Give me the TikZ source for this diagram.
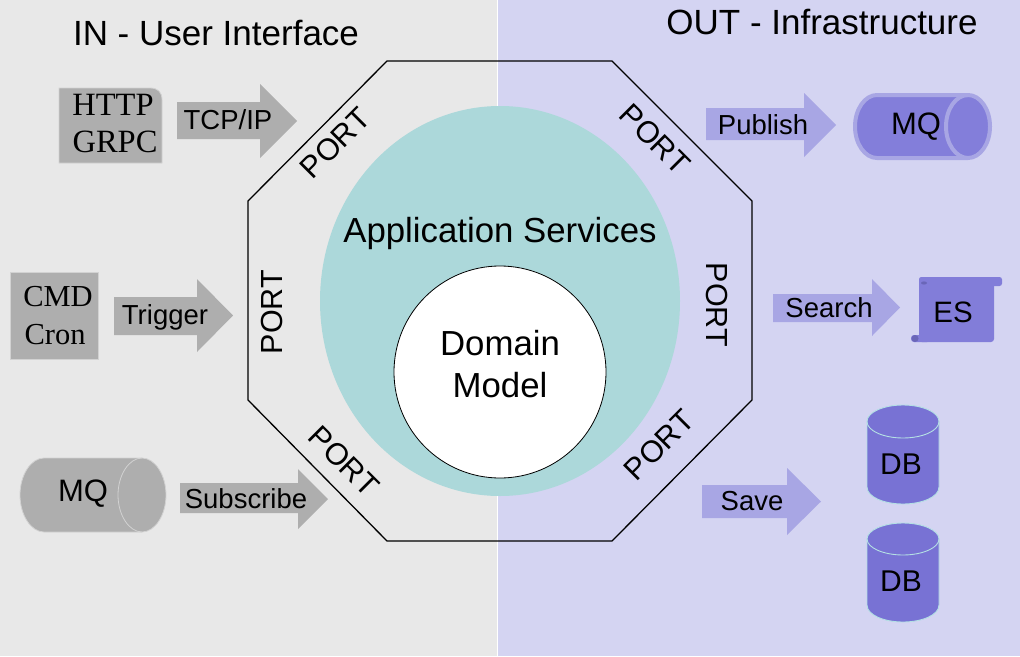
\documentclass[tikz,border=0pt]{standalone}
\usepackage{fontspec}
\usetikzlibrary{shapes.geometric}
\setmainfont{Liberation Sans}
\newfontfamily\serifface{Liberation Serif}
\definecolor{leftbg}{HTML}{E8E8E8}
\definecolor{rightbg}{HTML}{D4D4F2}
\definecolor{appteal}{HTML}{ACD8DA}
\definecolor{grayshape}{HTML}{AEAEAE}
\definecolor{grayedge}{HTML}{D2D2D2}
\definecolor{lilac}{HTML}{A8A6E4}
\definecolor{mqblue}{HTML}{837EDA}
\definecolor{esblue}{HTML}{827DD9}
\definecolor{dbblue}{HTML}{7872D4}
\definecolor{dbedge}{HTML}{B4E0E4}
\definecolor{curl}{HTML}{6A66B8}
\newcommand{\fs}[1]{\fontsize{#1}{#1}\selectfont}
\newcommand{\blockarrow}[8]{% fill, x0, shaft top, shaft bottom, head x, head top, head bottom, tip x
  \fill[#1] (#2,#3) -- (#5,#3) -- (#5,#6) -- (#8,{(#6+#7)/2}) -- (#5,#7) -- (#5,#4) -- (#2,#4) -- cycle;}
\tikzset{
  txt/.style={inner sep=0pt,text=black},
  title/.style={txt,font=\fs{35}},
  big/.style={txt,font=\fs{34.8}},
  portlabel/.style={txt,font=\fs{30.5}},
  arrowlabel/.style={txt,font=\fs{27.5}},
  shapelabel/.style={txt,font=\fs{30}},
  serifbox/.style={txt,font=\serifface\fs{30.5},align=center},
  serifwide/.style={serifbox,font=\serifface\fs{32.5}},
  grayfill/.style={fill=grayshape,draw=grayedge,line width=.8pt},
  dbshape/.style={fill=dbblue,draw=dbedge,line width=.9pt},
}
\begin{document}
\begin{tikzpicture}[x=1pt,y=-1pt]
\useasboundingbox (0,0) rectangle (1020,656);
% backgrounds
\fill[leftbg] (0,0) rectangle (497,656);
\fill[rightbg] (498,0) rectangle (1020,656);
\fill[white] (497,0) rectangle (498,656);
% octagonal application
\node[draw=none,fill=appteal,ellipse,minimum width=360pt,minimum height=390pt,inner sep=0pt] (app) at (500,301) {};
\draw[black,line width=1.3pt,line join=miter] (387,61) -- (612,61) -- (752,201) -- (752,400) -- (612,541) -- (387,541) -- (248,400) -- (248,201) -- cycle;
\node[draw=black,line width=.8pt,fill=white,circle,minimum size=212pt,inner sep=0pt] (domain) at (500,372) {};
\node[big] (apptext) at (500,233.5) {Application Services};
\node[big] (domaintext) at (500,343) {Domain};
\node[big] (modeltext) at (500,385) {Model};
% titles
\node[title] (intitle) at (216,33) {IN - User Interface};
\node[title] (outtitle) at (822,22) {OUT - Infrastructure};
% ports
\node[portlabel,rotate=45] (p1) at (335,143) {PORT};
\node[portlabel,rotate=-45] (p2) at (655,139) {PORT};
\node[portlabel,rotate=90] (p3) at (272,312) {PORT};
\node[portlabel,rotate=-90] (p4) at (717,305) {PORT};
\node[portlabel,rotate=-45] (p5) at (344,461) {PORT};
\node[portlabel,rotate=45] (p6) at (659,445) {PORT};
% left sources
\path[grayfill] (59,88) -- (150,88) .. controls (158,88) and (162,92) .. (162,100) -- (162,163) -- (59,163) -- cycle;
\node[serifwide] (http) at (113,105) {HTTP};
\node[serifwide] (grpc) at (115,142) {GRPC};
\path[grayfill] (10,272) rectangle (98,359);
\node[serifbox] (cmd) at (58,297) {CMD};
\node[serifbox] (cron) at (55,335) {Cron};
\path[grayfill] (44,458) -- (142,458) .. controls (155,458) and (166,475) .. (166,495) .. controls (166,515) and (155,532) .. (142,532) -- (44,532) .. controls (31,532) and (20,515) .. (20,495) .. controls (20,475) and (31,458) .. (44,458) -- cycle;
\draw[grayedge,line width=.8pt] (142,458) .. controls (129,458) and (118,475) .. (118,495) .. controls (118,515) and (129,532) .. (142,532);
\node[shapelabel,font=\fs{31}] (mqin) at (83,494) {MQ};
% left arrows
\blockarrow{grayshape}{177}{102}{139}{260}{84}{158}{297}
\node[arrowlabel] (tcp) at (228,120) {TCP/IP};
\blockarrow{grayshape}{114}{297}{335}{197}{279}{352}{233}
\node[arrowlabel] (trigger) at (165,317) {Trigger};
\blockarrow{grayshape}{180}{483}{513}{298}{469}{529}{328}
\node[arrowlabel] (subscribe) at (246,499) {Subscribe};
% right arrows
\blockarrow{lilac}{706}{108}{140}{804}{93}{157}{836}
\node[arrowlabel] (publish) at (763,125) {Publish};
\blockarrow{lilac}{773}{294}{322}{872}{279}{336}{900}
\node[arrowlabel] (search) at (829,308) {Search};
\blockarrow{lilac}{702}{485}{518}{787}{468}{535}{821}
\node[arrowlabel] (save) at (752,501) {Save};
% MQ out
\path[fill=mqblue,draw=lilac,line width=4pt] (877,95) -- (968,95) .. controls (980,95) and (990,109) .. (990,126.5) .. controls (990,144) and (980,158) .. (968,158) -- (877,158) .. controls (865,158) and (855,144) .. (855,126.5) .. controls (855,109) and (865,95) .. (877,95) -- cycle;
\draw[lilac,line width=4pt] (968,95) .. controls (956,95) and (946,109) .. (946,126.5) .. controls (946,144) and (956,158) .. (968,158);
\node[shapelabel,font=\fs{31}] (mqout) at (916,127) {MQ};
% ES scroll
\fill[esblue,rounded corners=2.5pt] (919,277) rectangle (1002,286);
\fill[esblue,rounded corners=3pt] (919,277) rectangle (994,342);
\fill[esblue,rounded corners=3pt] (911,335) rectangle (930,342);
\fill[curl] (915,338.5) circle [radius=3.5pt];
\fill[curl] (924,283) ellipse [x radius=3pt,y radius=1.6pt];
\node[shapelabel,font=\fs{29.5}] (es) at (953,312) {ES};
% databases
\path[dbshape] (867,421.5) .. controls (867,412) and (884,405) .. (903,405) .. controls (922,405) and (939,412) .. (939,421.5) -- (939,487) .. controls (939,497) and (922,504) .. (903,504) .. controls (884,504) and (867,497) .. (867,487) -- cycle;
\draw[dbedge,line width=.9pt] (867,421.5) .. controls (867,431) and (884,438) .. (903,438) .. controls (922,438) and (939,431) .. (939,421.5);
\node[shapelabel] (db1) at (901,464) {DB};
\path[dbshape] (867,539) .. controls (867,530) and (884,523) .. (903,523) .. controls (922,523) and (939,530) .. (939,539) -- (939,605) .. controls (939,615) and (922,622) .. (903,622) .. controls (884,622) and (867,615) .. (867,605) -- cycle;
\draw[dbedge,line width=.9pt] (867,539) .. controls (867,548) and (884,555) .. (903,555) .. controls (922,555) and (939,548) .. (939,539);
\node[shapelabel] (db2) at (901,581) {DB};
\end{tikzpicture}
\end{document}
